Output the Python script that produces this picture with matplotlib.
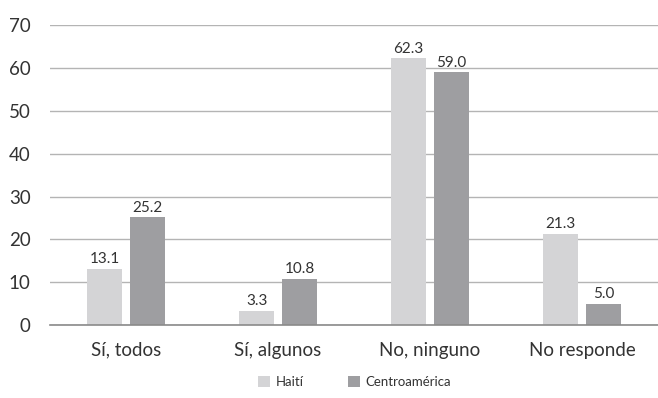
import matplotlib
import matplotlib.pyplot as plt
import numpy as np

matplotlib.use('Agg')

categories = ['Sí, todos', 'Sí, algunos', 'No, ninguno', 'No responde']
haiti = [13.1, 3.3, 62.3, 21.3]
centro = [25.2, 10.8, 59.0, 5.0]
series_names = ['Haití', 'Centroamérica']
y_ticks = [0, 10, 20, 30, 40, 50, 60, 70]

HAITI_COLOR = '#d4d4d6'
CENTRO_COLOR = '#9e9ea1'
TEXT_COLOR = '#333333'

plt.rcParams['font.family'] = ['Lato', 'DejaVu Sans']

fig = plt.figure(figsize=(6.58, 3.98), dpi=100)
ax = fig.add_axes([0.076, 0.183, 0.924, 0.754])

x = np.arange(len(categories))
width = 0.23
offset = 0.141

bars_h = ax.bar(x - offset, haiti, width, color=HAITI_COLOR, label=series_names[0], zorder=3)
bars_c = ax.bar(x + offset, centro, width, color=CENTRO_COLOR, label=series_names[1], zorder=3)

for bars, vals in ((bars_h, haiti), (bars_c, centro)):
    for b, v in zip(bars, vals):
        ax.text(b.get_x() + b.get_width() / 2, v + 0.6, f'{v:.1f}',
                ha='center', va='bottom', fontsize=11, color=TEXT_COLOR)

ax.set_xlim(-0.5, 3.5)
ax.set_ylim(0, 70)
ax.set_yticks(y_ticks)
ax.set_xticks(x)
ax.set_xticklabels(categories)
ax.tick_params(axis='both', length=0, labelsize=13.5, colors=TEXT_COLOR)
ax.tick_params(axis='y', pad=14)
ax.tick_params(axis='x', pad=12)
ax.grid(axis='y', color='#b4b4b4', linewidth=1, zorder=0)
for side in ('top', 'right', 'left'):
    ax.spines[side].set_visible(False)
ax.spines['bottom'].set_color('#8a8a8a')
ax.spines['bottom'].set_linewidth(1.2)
ax.spines['bottom'].set_zorder(4)

fig.legend(handles=[bars_h, bars_c], loc='center', bbox_to_anchor=(0.539, 0.04),
           ncol=2, frameon=False, fontsize=9.5, handlelength=0.9, handleheight=0.9,
           handletextpad=0.4, columnspacing=3.4, labelcolor=TEXT_COLOR)

fig.savefig('out.png', dpi=100)
